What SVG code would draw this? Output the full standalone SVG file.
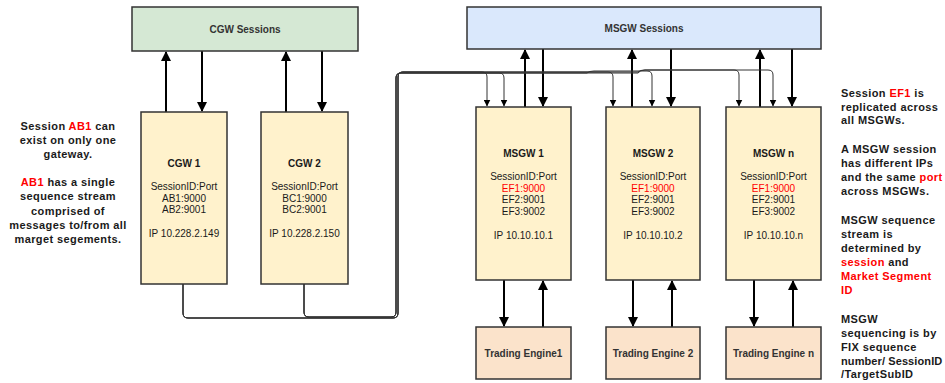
<svg xmlns="http://www.w3.org/2000/svg" width="945" height="383" viewBox="0 0 945 383">
<style>
text{font-family:"Liberation Sans",Arial,sans-serif;fill:#1a1a1a}
.t{font-size:10px;text-anchor:middle}
.b{font-weight:bold}
.r{fill:#ff0000}
.note{font-size:11px;font-weight:bold;letter-spacing:0.4px}
.box{stroke:#333;stroke-width:1.5}
.thick{stroke:#000;stroke-width:2;fill:none}
.thin{stroke:#333;stroke-width:1;fill:none}
</style>
<defs>
<marker id="ah" markerWidth="10" markerHeight="10" refX="9" refY="5" orient="auto" markerUnits="userSpaceOnUse"><path d="M0,0 L10,5 L0,10 Z" fill="#000"/></marker>
<marker id="as" markerWidth="7" markerHeight="7" refX="6.5" refY="3.5" orient="auto" markerUnits="userSpaceOnUse"><path d="M0,0 L7,3.5 L0,7 Z" fill="#000"/></marker>
</defs>
<rect width="945" height="383" fill="#fff"/>

<g id="connectors">
<path class="thick" d="M166 112 V52" marker-end="url(#ah)"/>
<path class="thick" d="M202 51 V111" marker-end="url(#ah)"/>
<path class="thick" d="M286 112 V52" marker-end="url(#ah)"/>
<path class="thick" d="M322 51 V111" marker-end="url(#ah)"/>
<path class="thick" d="M525 107 V50" marker-end="url(#ah)"/>
<path class="thick" d="M543 49 V106" marker-end="url(#ah)"/>
<path class="thick" d="M632 107 V50" marker-end="url(#ah)"/>
<path class="thick" d="M671 49 V106" marker-end="url(#ah)"/>
<path class="thick" d="M760 107 V50" marker-end="url(#ah)"/>
<path class="thick" d="M792 49 V106" marker-end="url(#ah)"/>
<path class="thick" d="M504 280 V326" marker-end="url(#ah)"/>
<path class="thick" d="M543 327 V281" marker-end="url(#ah)"/>
<path class="thick" d="M633 280 V326" marker-end="url(#ah)"/>
<path class="thick" d="M672 327 V281" marker-end="url(#ah)"/>
<path class="thick" d="M754 280 V326" marker-end="url(#ah)"/>
<path class="thick" d="M793 327 V281" marker-end="url(#ah)"/>
<path class="thin" d="M183 284 V313 Q183 318 188 318 H393 Q398 318 398 313 V77 Q398 72 403 72 H482 Q487 72 487 77 V106" marker-end="url(#as)"/>
<path class="thin" d="M183 284 V313 Q183 318 188 318 H393 Q398 318 398 313 V77 Q398 72 403 72 H608 Q613 72 613 77 V106" marker-end="url(#as)"/>
<path class="thin" d="M183 284 V313 Q183 318 188 318 H393 Q398 318 398 313 V77 Q398 72 403 72 H638 Q640 70 645 70 H734 Q739 70 739 75 V106" marker-end="url(#as)"/>
<path class="thin" d="M304 284 V312 Q304 317 309 317 H391 Q396 317 396 312 V78 Q396 73 401 73 H499 Q504 73 504 78 V106" marker-end="url(#as)"/>
<path class="thin" d="M304 284 V312 Q304 317 309 317 H391 Q396 317 396 312 V78 Q396 73 401 73 H587 Q589 71 594 71 H647 Q652 71 652 76 V106" marker-end="url(#as)"/>
<path class="thin" d="M304 284 V312 Q304 317 309 317 H391 Q396 317 396 312 V78 Q396 73 401 73 H638 Q640 70 645 70 H768 Q773 70 773 75 V106" marker-end="url(#as)"/>
</g>

<g id="cgw-sessions">
<rect class="box" x="132" y="7" width="226" height="44" fill="#d5e8d4"/>
<text class="t b" x="245" y="32.5" style="fill:#333">CGW Sessions</text>
</g>
<g id="msgw-sessions">
<rect class="box" x="467" y="7" width="354" height="42" fill="#dae8fc"/>
<text class="t b" x="644" y="31.5" style="fill:#333">MSGW Sessions</text>
</g>

<g id="cgw1">
<rect class="box" x="141" y="112" width="86" height="172" fill="#fff2cc"/>
<text class="t b" x="184" y="167">CGW 1</text>
<text class="t" x="184" y="190">SessionID:Port</text>
<text class="t" x="184" y="202">AB1:9000</text>
<text class="t" x="184" y="213">AB2:9001</text>
<text class="t" x="184" y="237">IP 10.228.2.149</text>
</g>
<g id="cgw2">
<rect class="box" x="261" y="112" width="87" height="172" fill="#fff2cc"/>
<text class="t b" x="304.5" y="167">CGW 2</text>
<text class="t" x="304.5" y="190">SessionID:Port</text>
<text class="t" x="304.5" y="202">BC1:9000</text>
<text class="t" x="304.5" y="213">BC2:9001</text>
<text class="t" x="304.5" y="237">IP 10.228.2.150</text>
</g>

<g id="msgw1">
<rect class="box" x="476" y="107" width="95" height="173" fill="#fff2cc"/>
<text class="t b" x="523.5" y="156.5">MSGW 1</text>
<text class="t" x="523.5" y="180">SessionID:Port</text>
<text class="t r" x="523.5" y="192">EF1:9000</text>
<text class="t" x="523.5" y="203">EF2:9001</text>
<text class="t" x="523.5" y="215">EF3:9002</text>
<text class="t" x="523.5" y="239">IP 10.10.10.1</text>
</g>
<g id="msgw2">
<rect class="box" x="606" y="107" width="94" height="173" fill="#fff2cc"/>
<text class="t b" x="653" y="156.5">MSGW 2</text>
<text class="t" x="653" y="180">SessionID:Port</text>
<text class="t r" x="653" y="192">EF1:9000</text>
<text class="t" x="653" y="203">EF2:9001</text>
<text class="t" x="653" y="215">EF3:9002</text>
<text class="t" x="653" y="239">IP 10.10.10.2</text>
</g>
<g id="msgwn">
<rect class="box" x="726" y="107" width="95" height="173" fill="#fff2cc"/>
<text class="t b" x="773.5" y="156.5">MSGW n</text>
<text class="t" x="773.5" y="180">SessionID:Port</text>
<text class="t r" x="773.5" y="192">EF1:9000</text>
<text class="t" x="773.5" y="203">EF2:9001</text>
<text class="t" x="773.5" y="215">EF3:9002</text>
<text class="t" x="773.5" y="239">IP 10.10.10.n</text>
</g>

<g id="engine1">
<rect class="box" x="476" y="327" width="95" height="52" fill="#fbe3cb"/>
<text class="t b" x="523.5" y="356.5" style="fill:#333">Trading Engine1</text>
</g>
<g id="engine2">
<rect class="box" x="606" y="327" width="94" height="52" fill="#fbe3cb"/>
<text class="t b" x="653" y="356.5" style="fill:#333">Trading Engine 2</text>
</g>
<g id="enginen">
<rect class="box" x="726" y="327" width="95" height="52" fill="#fbe3cb"/>
<text class="t b" x="773.5" y="356.5" style="fill:#333">Trading Engine n</text>
</g>

<g id="note-left" class="note" text-anchor="middle">
<text x="68" y="130">Session <tspan class="r">AB1</tspan> can</text>
<text x="68" y="144">exist on only one</text>
<text x="68" y="158">gateway.</text>
<text x="68" y="186"><tspan class="r">AB1</tspan> has a single</text>
<text x="68" y="200">sequence stream</text>
<text x="68" y="215">comprised of</text>
<text x="68" y="229">messages to/from all</text>
<text x="68" y="243">marget segements.</text>
</g>

<g id="note-right" class="note">
<text x="841" y="97">Session <tspan class="r">EF1</tspan> is</text>
<text x="841" y="111">replicated across</text>
<text x="841" y="124">all MSGWs.</text>
<text x="841" y="153">A MSGW session</text>
<text x="841" y="167">has different IPs</text>
<text x="841" y="181">and the same <tspan class="r">port</tspan></text>
<text x="841" y="195">across MSGWs.</text>
<text x="841" y="224">MSGW sequence</text>
<text x="841" y="238">stream is</text>
<text x="841" y="252">determined by</text>
<text x="841" y="266"><tspan class="r">session</tspan> and</text>
<text x="841" y="280" class="r">Market Segment</text>
<text x="841" y="294" class="r">ID</text>
<text x="841" y="323">MSGW</text>
<text x="841" y="337">sequencing is by</text>
<text x="841" y="351">FIX sequence</text>
<text x="841" y="365" style="letter-spacing:0.1px">number/ SessionID</text>
<text x="841" y="378">/TargetSubID</text>
</g>
</svg>
